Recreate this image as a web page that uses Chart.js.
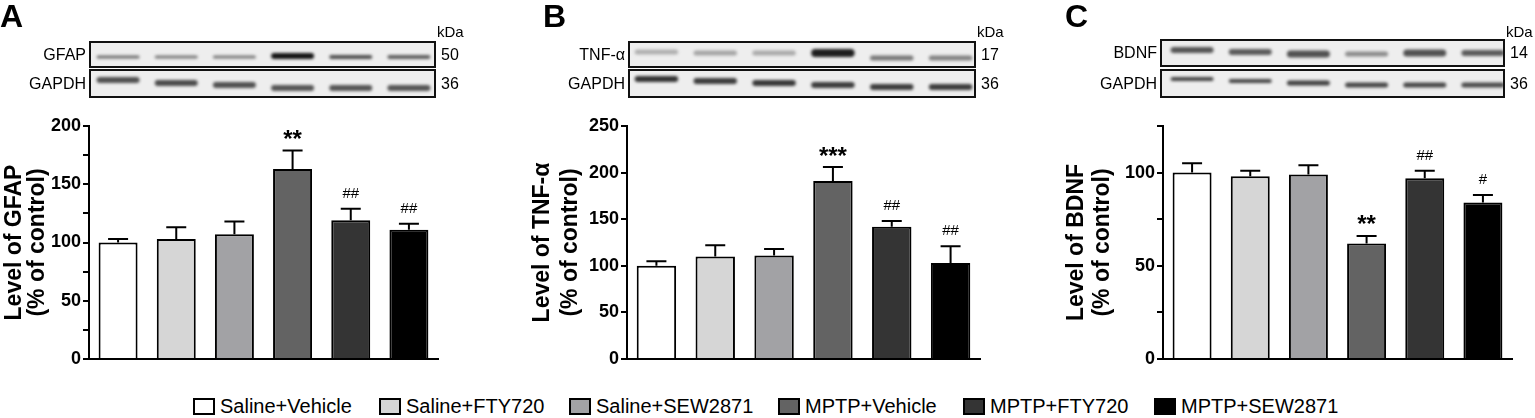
<!DOCTYPE html>
<html>
<head>
<meta charset="utf-8">
<script src="https://cdn.jsdelivr.net/npm/chart.js@4.4.1/dist/chart.umd.min.js"></script>
<style>
    body { margin: 0; background: #fff; width: 1535px; height: 418px; overflow: hidden; position: relative;
           font-family: "Liberation Sans", Arial, sans-serif; }
    canvas { position: absolute; top: 0; }
    .legend-item { position: absolute; top: 398px; height: 17px; display: flex; align-items: center; white-space: nowrap;
                   font-size: 20px; line-height: 17px; color: #000; }
    .legend-box { width: 22px; height: 17px; box-sizing: border-box; border: 2px solid #000; margin-right: 5px; }
</style>
</head>
<body>
<canvas id="chartA" width="505" height="385" style="left:0"></canvas>
<canvas id="chartB" width="515" height="385" style="left:505px"></canvas>
<canvas id="chartC" width="515" height="385" style="left:1020px"></canvas>
<div id="legend"></div>
<script>
(function () {
    'use strict';

    // groups and fills
    var groups = ['Saline+Vehicle', 'Saline+FTY720', 'Saline+SEW2871', 'MPTP+Vehicle', 'MPTP+FTY720', 'MPTP+SEW2871'];
    var groupColors = ['#ffffff', '#d6d6d6', '#a2a2a5', '#636363', '#343434', '#000000'];

    // A: GFAP
    var gfapMeans = [100, 103, 107, 163, 119, 111];
    var gfapSem = [3, 10, 11, 16, 10, 5];
    var gfapMarks = ['', '', '', '**', '##', '##'];
    var gfapTicks = [0, 50, 100, 150, 200];

    // B: TNF-alpha
    var tnfMeans = [100, 110, 111, 191, 142, 103];
    var tnfSem = [5, 12, 7, 15, 6, 18];
    var tnfMarks = ['', '', '', '***', '##', '##'];
    var tnfTicks = [0, 50, 100, 150, 200, 250];

    // C: BDNF
    var bdnfMeans = [100, 98, 99, 62, 97, 84];
    var bdnfSem = [5, 3, 5, 4, 4, 4];
    var bdnfMarks = ['', '', '', '**', '##', '#'];
    var bdnfTicks = [0, 50, 100];

    var FONT = '"Liberation Sans", Arial, sans-serif';

    // western blot strips (grey level, band thickness, band offset from strip top)
    var blotsA = [
        { label: 'GFAP', kda: '50', top: 42, bottom: 67,
          shade: [110, 120, 120, 20, 80, 95], thick: [3, 3, 3, 6, 4, 4], pos: [15, 15, 15, 14, 15, 15] },
        { label: 'GAPDH', kda: '36', top: 70, bottom: 97,
          shade: [80, 75, 80, 85, 85, 85], thick: [6, 6, 6, 6, 6, 6], pos: [10, 13, 15, 18, 18, 18] }
    ];
    var blotsB = [
        { label: 'TNF-α', kda: '17', top: 42, bottom: 67,
          shade: [175, 165, 170, 30, 120, 130], thick: [5, 5, 5, 8, 5, 5], pos: [10, 11, 11, 11, 16, 16] },
        { label: 'GAPDH', kda: '36', top: 70, bottom: 97,
          shade: [50, 60, 55, 60, 60, 60], thick: [6, 6, 6, 6, 6, 6], pos: [9, 11, 13, 15, 17, 17] }
    ];
    var blotsC = [
        { label: 'BDNF', kda: '14', top: 40, bottom: 66,
          shade: [85, 90, 80, 140, 80, 90], thick: [6, 6, 7, 5, 7, 6], pos: [10, 12, 14, 14, 13, 13] },
        { label: 'GAPDH', kda: '36', top: 70, bottom: 97,
          shade: [70, 70, 65, 70, 70, 75], thick: [4, 4, 5, 5, 5, 5], pos: [9, 11, 13, 15, 15, 15] }
    ];

    function drawBlot(ctx, blot, lanes, x0, x1, bandW) {
        var y0 = blot.top, y1 = blot.bottom;
        ctx.save();
        ctx.fillStyle = '#eeeeee';
        ctx.fillRect(x0, y0, x1 - x0, y1 - y0);
        ctx.beginPath();
        ctx.rect(x0, y0, x1 - x0, y1 - y0);
        ctx.clip();
        ctx.filter = 'blur(1.4px)';
        lanes.forEach(function (cx, i) {
            var g = blot.shade[i];
            var h = blot.thick[i];
            var cy = y0 + blot.pos[i];
            ctx.fillStyle = 'rgb(' + g + ',' + g + ',' + g + ')';
            ctx.beginPath();
            ctx.roundRect(cx - bandW / 2, cy - h / 2, bandW, h, h / 2);
            ctx.fill();
        });
        ctx.restore();

        ctx.save();
        ctx.lineWidth = 2;
        ctx.strokeStyle = '#111';
        ctx.strokeRect(x0, y0, x1 - x0, y1 - y0);
        ctx.fillStyle = '#000';
        ctx.font = '16px ' + FONT;
        ctx.textBaseline = 'middle';
        ctx.textAlign = 'right';
        ctx.fillText(blot.label, x0 - 4, (y0 + y1) / 2 + 1);
        ctx.textAlign = 'left';
        ctx.fillText(blot.kda, x1 + 6, (y0 + y1) / 2 + 1);
        ctx.restore();
    }

    var panelDecor = {
        id: 'panelDecor',
        afterDatasetsDraw: function (chart, args, opts) {
            var ctx = chart.ctx;
            var meta = chart.getDatasetMeta(0);
            var yScale = chart.scales.y;
            var values = chart.data.datasets[0].data;
            ctx.save();
            ctx.strokeStyle = '#000';
            ctx.lineWidth = 2;
            ctx.fillStyle = '#000';
            meta.data.forEach(function (bar, i) {
                var top = yScale.getPixelForValue(values[i] + opts.sem[i]);
                ctx.beginPath();
                ctx.moveTo(bar.x, bar.y);
                ctx.lineTo(bar.x, top);
                ctx.moveTo(bar.x - 10, top);
                ctx.lineTo(bar.x + 10, top);
                ctx.stroke();

                var mark = opts.marks[i];
                if (!mark) return;
                var star = mark.charAt(0) === '*';
                ctx.font = star ? 'bold 24px ' + FONT : '15px ' + FONT;
                ctx.textAlign = 'center';
                ctx.textBaseline = 'alphabetic';
                var m = ctx.measureText(mark);
                var cy = top - 16;
                ctx.fillText(mark, bar.x, cy + (m.actualBoundingBoxAscent - m.actualBoundingBoxDescent) / 2);
            });
            ctx.restore();
        },
        afterDraw: function (chart, args, opts) {
            var ctx = chart.ctx;
            var area = chart.chartArea;
            var meta = chart.getDatasetMeta(0);
            var lanes = meta.data.map(function (bar) { return bar.x; });
            var bandW = meta.data[0].width + 4;
            var x0 = area.left + opts.blotInset[0];
            var x1 = area.right - opts.blotInset[1];

            opts.blots.forEach(function (blot) {
                drawBlot(ctx, blot, lanes, x0, x1, bandW);
            });

            ctx.save();
            ctx.fillStyle = '#000';
            ctx.font = '15px ' + FONT;
            ctx.textAlign = 'left';
            ctx.textBaseline = 'middle';
            ctx.fillText('kDa', x1 + 2, 33);
            ctx.font = 'bold 32px ' + FONT;
            ctx.textBaseline = 'middle';
            ctx.fillText(opts.letter, opts.letterX, 18);
            ctx.restore();
        }
    };

    function makeChart(id, means, sem, marks, labelTicks, yMax, title, layout, decor) {
        var canvas = document.getElementById(id);
        return new Chart(canvas, {
            type: 'bar',
            data: {
                labels: groups,
                datasets: [{
                    data: means,
                    backgroundColor: groupColors,
                    borderColor: '#000',
                    borderWidth: 2,
                    borderSkipped: 'bottom',
                    barPercentage: 0.67,
                    categoryPercentage: 1.0
                }]
            },
            options: {
                responsive: false,
                animation: false,
                events: [],
                layout: { padding: { top: 126, bottom: 26, left: 0, right: layout.right } },
                scales: {
                    x: {
                        offset: true,
                        grid: { display: true, drawOnChartArea: false, drawTicks: false },
                        ticks: { display: false },
                        border: { color: '#000', width: 2 }
                    },
                    y: {
                        min: 0,
                        max: yMax,
                        afterFit: function (scale) { scale.width = layout.axisX; },
                        ticks: {
                            stepSize: 25,
                            padding: 2,
                            color: '#000',
                            font: { family: FONT, size: 18, weight: 'bold' },
                            callback: function (v) { return labelTicks.indexOf(v) >= 0 ? String(v) : ''; }
                        },
                        grid: { drawOnChartArea: false, drawTicks: true, tickLength: 6, color: '#000', lineWidth: 2 },
                        border: { color: '#000', width: 2 },
                        title: {
                            display: true,
                            text: title,
                            color: '#000',
                            padding: { top: layout.titlePad, bottom: 0 },
                            font: { family: FONT, size: 23, weight: 'bold', lineHeight: layout.titleLine + 'px' }
                        }
                    }
                },
                plugins: {
                    legend: { display: false },
                    tooltip: { enabled: false },
                    panelDecor: decor
                }
            },
            plugins: [panelDecor]
        });
    }

    makeChart('chartA', gfapMeans, gfapSem, gfapMarks, gfapTicks, 200,
        ['Level of GFAP', '(% of control)'],
        { axisX: 89, right: 67, titlePad: 3, titleLine: 23 },
        { sem: gfapSem, marks: gfapMarks, blots: blotsA, blotInset: [1, 3], letter: 'A', letterX: 0 });

    makeChart('chartB', tnfMeans, tnfSem, tnfMarks, tnfTicks, 250,
        ['Level of TNF-α', '(% of control)'],
        { axisX: 122, right: 40, titlePad: 24, titleLine: 28 },
        { sem: tnfSem, marks: tnfMarks, blots: blotsB, blotInset: [2, 5], letter: 'B', letterX: 38 });

    makeChart('chartC', bdnfMeans, bdnfSem, bdnfMarks, bdnfTicks, 125,
        ['Level of BDNF', '(% of control)'],
        { axisX: 143, right: 23, titlePad: 44, titleLine: 26 },
        { sem: bdnfSem, marks: bdnfMarks, blots: blotsC, blotInset: [-2, 8], letter: 'C', letterX: 45 });

    // shared legend along the bottom
    var legendBoxX = [193, 379, 569, 778, 963, 1154];
    var legend = document.getElementById('legend');
    groups.forEach(function (name, i) {
        var item = document.createElement('div');
        item.className = 'legend-item';
        item.style.left = legendBoxX[i] + 'px';
        var box = document.createElement('span');
        box.className = 'legend-box';
        box.style.background = groupColors[i];
        var text = document.createElement('span');
        text.textContent = name;
        item.appendChild(box);
        item.appendChild(text);
        legend.appendChild(item);
    });
})();
</script>
</body>
</html>
